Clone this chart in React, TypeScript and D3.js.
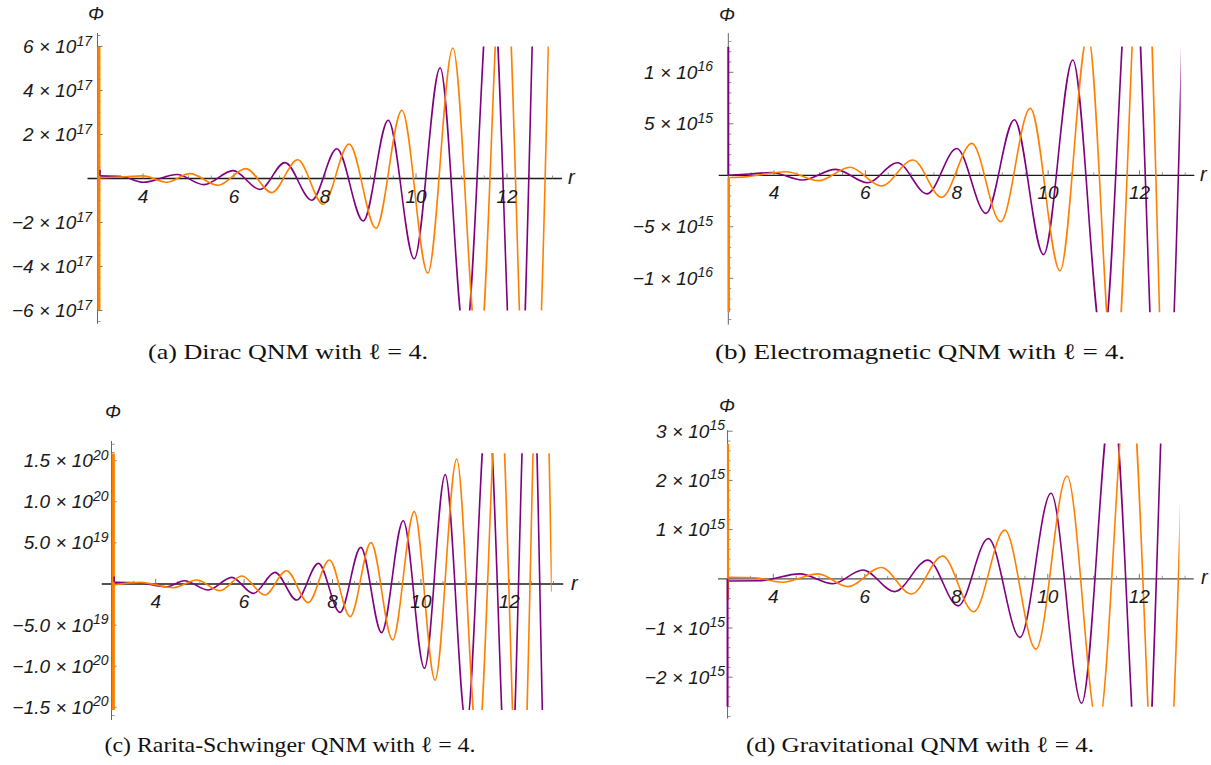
import React from 'react';
import * as d3 from 'd3';

type Pt = [number, number];

// ---------- shared r axis ----------
const rTicks = [4, 6, 8, 10, 12];
const rTickLabels = ['4', '6', '8', '10', '12'];

// ---------- (a) Dirac, Phi in units of 10^17 ----------
const diracPurpleSpike: Pt[] = [[3.055, 0.4], [3.055, 0.12]];
const diracPurple: Pt[] = [
  [3.055, 0.12], [3.55, 0.08], [4.0, -0.17], [4.75, 0.18], [5.34, -0.28], [5.98, 0.36],
  [6.57, -0.5], [7.12, 0.72], [7.71, -0.99], [8.26, 1.35], [8.84, -1.93], [9.39, 2.65],
  [9.96, -3.65], [10.53, 5.03], [11.08, -7.4], [11.66, 9.8], [12.22, -13.5], [12.8, 18.5], [13.37, -25],
];
const diracOrangeSpike: Pt[] = [[3.03, 6], [3.03, -6]];
const diracOrange: Pt[] = [
  [3.05, 0.03], [3.5, 0.07], [4.0, 0.12], [4.52, -0.17], [5.03, 0.22], [5.65, -0.31], [6.26, 0.45],
  [6.83, -0.64], [7.4, 0.85], [7.96, -1.17], [8.53, 1.57], [9.12, -2.26], [9.69, 3.1], [10.26, -4.3],
  [10.81, 5.93], [11.38, -8.4], [11.93, 11.5], [12.5, -15.5], [13.07, 21],
];
const diracYTicks = [6, 4, 2, -2, -4, -6];
const diracYLabels = ['6', '4', '2', '\u22122', '\u22124', '\u22126'];
const diracYExp = ['17', '17', '17', '17', '17', '17'];

// ---------- (b) Electromagnetic, Phi in units of 10^15 ----------
const emPurpleSpike: Pt[] = [[3.0, 12.5], [3.0, 0]];
const emPurple: Pt[] = [
  [3.01, 0.0], [3.45, 0.12], [3.95, 0.27], [4.62, -0.46], [5.35, 0.58], [6.05, -0.72], [6.7, 1.22],
  [7.35, -1.8], [8.0, 2.6], [8.64, -3.7], [9.26, 5.4], [9.9, -7.7], [10.54, 11.2], [11.2, -16.5],
  [11.84, 24], [12.48, -33], [13.12, 48],
];
const emOrangeSpike: Pt[] = [[3.01, -13.3], [3.01, -0.22]];
const emOrange: Pt[] = [
  [3.02, -0.22], [3.3, -0.18], [4.27, 0.35], [4.98, -0.52], [5.66, 0.78], [6.35, -1.04], [7.04, 1.49],
  [7.67, -2.14], [8.33, 3.1], [8.96, -4.5], [9.61, 6.5], [10.26, -9.26], [10.87, 13.7], [11.45, -20.5],
  [12.08, 29], [12.72, -43], [13.36, 62],
];
const emYTicks = [10, 5, -5, -10];
const emYLabels = ['1', '5', '\u22125', '\u22121'];
const emYExp = ['16', '15', '15', '16'];

// ---------- (c) Rarita-Schwinger, Phi in units of 10^19 ----------
const rsPurpleSpike: Pt[] = [[3.06, 0.9], [3.06, 0.2]];
const rsPurple: Pt[] = [
  [3.06, 0.2], [3.6, 0.15], [4.25, -0.33], [4.65, 0.4], [5.19, -0.73], [5.72, 0.81], [6.21, -1.14],
  [6.7, 1.42], [7.19, -1.95], [7.68, 2.51], [8.17, -3.45], [8.64, 4.46], [9.11, -5.92], [9.6, 7.7],
  [10.08, -10.26], [10.55, 13.3], [11.03, -17.3], [11.51, 22.5], [11.99, -29.3], [12.47, 38],
  [12.95, -49], [13.43, 64],
];
const rsOrangeSpike: Pt[] = [[3.04, 15.9], [3.04, -15.33]];
const rsOrange: Pt[] = [
  [3.06, -0.1], [3.65, 0.2], [4.4, -0.45], [4.93, 0.49], [5.45, -0.81], [5.95, 0.97], [6.47, -1.34],
  [6.96, 1.62], [7.45, -2.27], [7.93, 2.92], [8.4, -3.97], [8.87, 5.03], [9.36, -6.8], [9.85, 8.8],
  [10.32, -11.7], [10.81, 15.2], [11.29, -20], [11.77, 26], [12.25, -34], [12.73, 44], [12.96, -0.94],
];
const rsYTicks = [15, 10, 5, -5, -10, -15];
const rsYLabels = ['1.5', '1.0', '5.0', '\u22125.0', '\u22121.0', '\u22121.5'];
const rsYExp = ['20', '20', '19', '19', '20', '20'];

// ---------- (d) Gravitational, Phi in units of 10^15 ----------
const gravPurpleSpike: Pt[] = [[3.0, 0], [3.0, -2.6]];
const gravPurple: Pt[] = [
  [3.03, -0.045], [3.7, -0.04], [4.58, 0.1], [5.3, -0.1], [5.96, 0.18], [6.65, -0.26], [7.38, 0.38],
  [8.04, -0.55], [8.7, 0.82], [9.39, -1.19], [10.07, 1.74], [10.74, -2.53], [11.41, 3.75],
  [12.08, -5.45], [12.75, 7.9], [13.42, -11.5],
];
const gravOrangeSpike: Pt[] = [[3.01, 2.75], [3.01, -0.43]];
const gravOrange: Pt[] = [
  [3.02, 0.03], [3.6, 0.02], [4.2, -0.07], [4.98, 0.1], [5.63, -0.16], [6.36, 0.23], [7.02, -0.31],
  [7.7, 0.46], [8.38, -0.67], [9.06, 0.99], [9.74, -1.43], [10.42, 2.09], [11.1, -3.03], [11.78, 4.4],
  [12.46, -6.4], [13.14, 9.3],
];
const gravYTicks = [3, 2, 1, -1, -2];
const gravYLabels = ['3', '2', '1', '\u22121', '\u22122'];
const gravYExp = ['15', '15', '15', '15', '15'];

const PURPLE = '#800080';
const ORANGE = '#ff8000';
const LABEL_FONT = '"Liberation Sans", Arial, sans-serif';
const CAPTION_FONT = '"Liberation Serif", "Times New Roman", serif';

type Spec = {
  id: string;
  xPx: [number, number]; // pixel of r=4 and r=12
  yCal: [number, number];
  yPx: [number, number];
  axisR: [number, number];
  axisV: [number, number];
  clipV: [number, number];
  rEnd: number;
  majorStep: number;
  minorStep: number;
  labelRight: number;
  phiPos: [number, number];
  rPos: [number, number];
  axisColor: string;
  purple: Pt[]; purpleSpike: Pt[]; purpleSpikeW: number;
  orange: Pt[]; orangeSpike: Pt[]; orangeSpikeW: number;
  yTicks: number[]; yLabels: string[]; yExp: string[];
  caption: string; capPos: [number, number]; capLen: number;
};

const panels: Spec[] = [
  {
    id: 'a', xPx: [143, 507], yCal: [-6, 6], yPx: [310.5, 46.5], axisR: [2.78, 13.21], axisV: [-6.6, 6.62],
    clipV: [-6, 6], rEnd: 12.92, majorStep: 2, minorStep: 0.5, labelRight: 92, phiPos: [96, 20],
    rPos: [568, 184], axisColor: '#1a1a1a',
    purple: diracPurple, purpleSpike: diracPurpleSpike, purpleSpikeW: 1.5,
    orange: diracOrange, orangeSpike: diracOrangeSpike, orangeSpikeW: 3.2,
    yTicks: diracYTicks, yLabels: diracYLabels, yExp: diracYExp,
    caption: '(a) Dirac QNM with \u2113 = 4.', capPos: [288, 359], capLen: 280,
  },
  {
    id: 'b', xPx: [774, 1139.5], yCal: [-10, 10], yPx: [278.3, 72.3], axisR: [2.79, 13.2], axisV: [-14.5, 13.8],
    clipV: [-13.3, 12.5], rEnd: 12.9, majorStep: 5, minorStep: 1, labelRight: 713, phiPos: [727, 21],
    rPos: [1200, 181], axisColor: '#1a1a1a',
    purple: emPurple, purpleSpike: emPurpleSpike, purpleSpikeW: 2,
    orange: emOrange, orangeSpike: emOrangeSpike, orangeSpikeW: 2.4,
    yTicks: emYTicks, yLabels: emYLabels, yExp: emYExp,
    caption: '(b) Electromagnetic QNM with \u2113 = 4.', capPos: [920, 359], capLen: 410,
  },
  {
    id: 'c', xPx: [155.7, 509.3], yCal: [-15, 15], yPx: [707.3, 460.7], axisR: [2.78, 13.22], axisV: [-16.55, 17.4],
    clipV: [-15.33, 15.9], rEnd: 12.96, majorStep: 5, minorStep: 1, labelRight: 108.5, phiPos: [113, 418],
    rPos: [571, 590], axisColor: '#1a1a1a',
    purple: rsPurple, purpleSpike: rsPurpleSpike, purpleSpikeW: 1.5,
    orange: rsOrange, orangeSpike: rsOrangeSpike, orangeSpikeW: 3.2,
    yTicks: rsYTicks, yLabels: rsYLabels, yExp: rsYExp,
    caption: '(c) Rarita-Schwinger QNM with \u2113 = 4.', capPos: [290, 752], capLen: 371,
  },
  {
    id: 'd', xPx: [773.3, 1139.3], yCal: [-2, 3], yPx: [677.2, 431.2], axisR: [2.79, 13.19], axisV: [-2.84, 3.02],
    clipV: [-2.6, 2.75], rEnd: 12.88, majorStep: 1, minorStep: 0.2, labelRight: 725, phiPos: [727, 412],
    rPos: [1201, 584], axisColor: '#4d4d4d',
    purple: gravPurple, purpleSpike: gravPurpleSpike, purpleSpikeW: 2,
    orange: gravOrange, orangeSpike: gravOrangeSpike, orangeSpikeW: 2.2,
    yTicks: gravYTicks, yLabels: gravYLabels, yExp: gravYExp,
    caption: '(d) Gravitational QNM with \u2113 = 4.', capPos: [920, 752], capLen: 348,
  },
];

function Panel({ p }: { p: Spec }) {
  const x = d3.scaleLinear().domain([4, 12]).range(p.xPx);
  const y = d3.scaleLinear().domain(p.yCal).range(p.yPx);
  const smooth = d3.line<Pt>().x(d => x(d[0])).y(d => y(d[1])).curve(d3.curveMonotoneX);
  const straight = d3.line<Pt>().x(d => x(d[0])).y(d => y(d[1]));

  const ax = x(3);
  const ay = y(0);
  const clipId = `clip-${p.id}`;

  const eps = 1e-6;
  const minorR = d3.range(3.5, 13.01, 0.5).filter(r => !rTicks.some(t => Math.abs(t - r) < eps));
  const lo = Math.ceil(p.axisV[0] / p.minorStep) * p.minorStep;
  const minorV = d3.range(lo, p.axisV[1] + eps, p.minorStep)
    .filter(v => Math.abs(v / p.majorStep - Math.round(v / p.majorStep)) > 1e-3);

  const tickColor = '#777';

  return (
    <g>
      <defs>
        <clipPath id={clipId}>
          <rect x={x(2.9)} y={y(p.clipV[1])} width={x(p.rEnd) - x(2.9)} height={y(p.clipV[0]) - y(p.clipV[1])} />
        </clipPath>
      </defs>

      {/* axes */}
      <line x1={x(p.axisR[0])} x2={x(p.axisR[1])} y1={ay} y2={ay} stroke={p.axisColor} strokeWidth={1.3} />
      <line x1={ax} x2={ax} y1={y(p.axisV[0])} y2={y(p.axisV[1])} stroke="#666" strokeWidth={1} />

      {minorR.map(r => (
        <line key={`mr${r}`} x1={x(r)} x2={x(r)} y1={ay} y2={ay - 3} stroke={tickColor} strokeWidth={0.8} />
      ))}
      {rTicks.map(r => (
        <line key={`r${r}`} x1={x(r)} x2={x(r)} y1={ay} y2={ay - 5} stroke={tickColor} strokeWidth={1} />
      ))}
      {minorV.map(v => (
        <line key={`mv${v}`} x1={ax} x2={ax + 3} y1={y(v)} y2={y(v)} stroke={tickColor} strokeWidth={0.8} />
      ))}
      {p.yTicks.map(v => (
        <line key={`v${v}`} x1={ax} x2={ax + 5} y1={y(v)} y2={y(v)} stroke={tickColor} strokeWidth={1} />
      ))}

      {/* curves */}
      <g clipPath={`url(#${clipId})`} fill="none" strokeLinejoin="round">
        <path d={smooth(p.purple) ?? ''} stroke={PURPLE} strokeWidth={1.6} />
        <path d={smooth(p.orange) ?? ''} stroke={ORANGE} strokeWidth={1.6} />
        <path d={straight(p.orangeSpike) ?? ''} stroke={ORANGE} strokeWidth={p.orangeSpikeW} />
        <path d={straight(p.purpleSpike) ?? ''} stroke={PURPLE} strokeWidth={p.purpleSpikeW} />
      </g>

      {/* tick labels */}
      <g fontFamily={LABEL_FONT} fontStyle="italic" fill="#1a1a1a">
        {rTicks.map((r, i) => (
          <text key={`rl${r}`} x={x(r)} y={ay + 24} fontSize={19} textAnchor="middle">{rTickLabels[i]}</text>
        ))}
        {p.yTicks.map((v, i) => (
          <text key={`yl${v}`} x={p.labelRight} y={y(v) + 6.5} fontSize={19} textAnchor="end">
            {p.yLabels[i]} {'\u00d7'} 10<tspan dy={-7.5} fontSize={14}>{p.yExp[i]}</tspan>
          </text>
        ))}
        <text x={p.phiPos[0]} y={p.phiPos[1]} fontSize={19} textAnchor="middle">{'\u03a6'}</text>
        <text x={p.rPos[0]} y={p.rPos[1]} fontSize={20}>r</text>
      </g>

      <text x={p.capPos[0]} y={p.capPos[1]} fontFamily={CAPTION_FONT} fontSize={22} textAnchor="middle"
        textLength={p.capLen} lengthAdjust="spacingAndGlyphs" fill="#111">
        {p.caption}
      </text>
    </g>
  );
}

export default function App() {
  return (
    <svg width={1211} height={765} style={{ position: 'absolute', left: 0, top: 0, background: '#fff' }}>
      <rect width={1211} height={765} fill="#fff" />
      {panels.map(p => <Panel key={p.id} p={p} />)}
    </svg>
  );
}
